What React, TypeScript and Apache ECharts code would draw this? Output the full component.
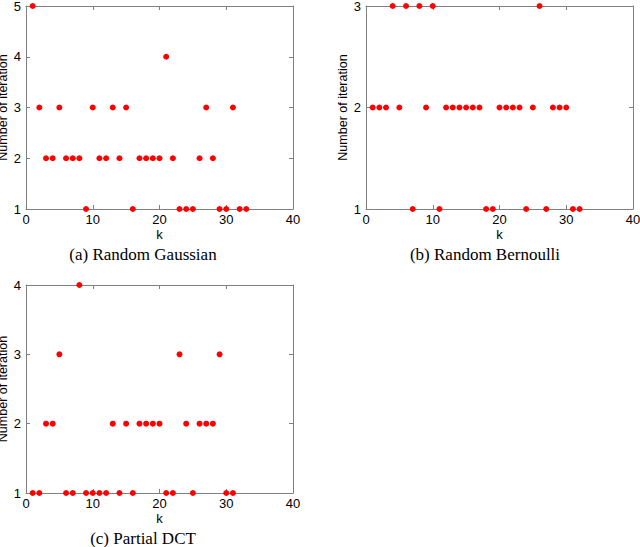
import React, { useEffect, useRef } from "react";
import * as echarts from "echarts";

const gaussianIter = [5, 3, 2, 2, 3, 2, 2, 2, 1, 3, 2, 2, 3, 2, 3, 1, 2, 2, 2, 2, 4, 2, 1, 1, 1, 2, 3, 2, 1, 1, 3, 1, 1];
const bernoulliIter = [2, 2, 2, 3, 2, 3, 1, 3, 2, 3, 1, 2, 2, 2, 2, 2, 2, 1, 1, 2, 2, 2, 2, 1, 2, 3, 1, 2, 2, 2, 1, 1];
const dctIter = [1, 1, 2, 2, 3, 1, 1, 4, 1, 1, 1, 1, 2, 1, 2, 1, 2, 2, 2, 2, 1, 1, 3, 2, 1, 2, 2, 2, 3, 1, 1];
const yMax = [5, 3, 4];
const captions = ["(a) Random Gaussian", "(b) Random Bernoulli", "(c) Partial DCT"];
const xLabel = "k";
const yLabel = "Number of iteration";

const gray = "#808080";
const sans = "Liberation Sans, Arial, sans-serif";
const serif = "Liberation Serif, Times New Roman, serif";

export default function App() {
  const ref = useRef<HTMLDivElement>(null);
  useEffect(() => {
    if (!ref.current) return;
    const chart = echarts.init(ref.current, null, { renderer: "svg" });
    const grids = [
      { left: 26, top: 6, width: 267, height: 203, containLabel: false, outerBoundsMode: "none" },
      { left: 366, top: 6, width: 267, height: 203, containLabel: false, outerBoundsMode: "none" },
      { left: 26, top: 285, width: 267, height: 208, containLabel: false, outerBoundsMode: "none" },
    ];
    const datasets = [gaussianIter, bernoulliIter, dctIter];
    const xAxis: any[] = [];
    const yAxis: any[] = [];
    const series: any[] = [];
    grids.forEach((_, i) => {
      const common = {
        gridIndex: i,
        type: "value",
        min: 0,
        max: 40,
        interval: 10,
        splitLine: { show: false },
        axisLine: { show: true, onZero: false, lineStyle: { color: gray, width: 1 } },
        axisTick: { show: true, inside: true, length: 4, lineStyle: { color: gray } },
      };
      xAxis.push({
        ...common,
        position: "bottom",
        axisLabel: { color: "#000", fontSize: 13, fontFamily: sans, margin: 4 },
        name: xLabel,
        nameLocation: "middle",
        nameGap: 19,
        nameTextStyle: { color: "#000", fontSize: 13, fontFamily: sans },
      });
      xAxis.push({ ...common, position: "top", axisLabel: { show: false } });
      const ycommon = {
        gridIndex: i,
        type: "value",
        min: 1,
        max: yMax[i],
        interval: 1,
        splitLine: { show: false },
        axisLine: { show: true, onZero: false, lineStyle: { color: gray, width: 1 } },
        axisTick: { show: true, inside: true, length: 4, lineStyle: { color: gray } },
      };
      yAxis.push({
        ...ycommon,
        position: "left",
        axisLabel: { color: "#000", fontSize: 13, fontFamily: sans, margin: 5 },
        name: yLabel,
        nameLocation: "middle",
        nameGap: 9,
        nameTextStyle: { color: "#000", fontSize: 12.5, fontFamily: sans, lineHeight: 13 },
      });
      yAxis.push({ ...ycommon, position: "right", axisLabel: { show: false } });
      series.push({
        type: "scatter",
        xAxisIndex: i * 2,
        yAxisIndex: i * 2,
        symbol: "circle",
        symbolSize: 6,
        itemStyle: { color: "#ff0000", opacity: 1 },
        data: datasets[i].map((v, j) => [j + 1, v]),
      });
    });
    chart.setOption({
      animation: false,
      backgroundColor: "#fff",
      grid: grids,
      xAxis,
      yAxis,
      series,
      graphic: [
        { type: "text", x: 143, y: 254, style: { text: captions[0], font: `17px ${serif}`, fill: "#000", textAlign: "center", textVerticalAlign: "middle" } },
        { type: "text", x: 485, y: 254, style: { text: captions[1], font: `17px ${serif}`, fill: "#000", textAlign: "center", textVerticalAlign: "middle" } },
        { type: "text", x: 143, y: 538, style: { text: captions[2], font: `17px ${serif}`, fill: "#000", textAlign: "center", textVerticalAlign: "middle" } },
      ],
    });
    return () => chart.dispose();
  }, []);
  return <div ref={ref} style={{ position: "fixed", left: 0, top: 0, width: 640, height: 547 }} />;
}
